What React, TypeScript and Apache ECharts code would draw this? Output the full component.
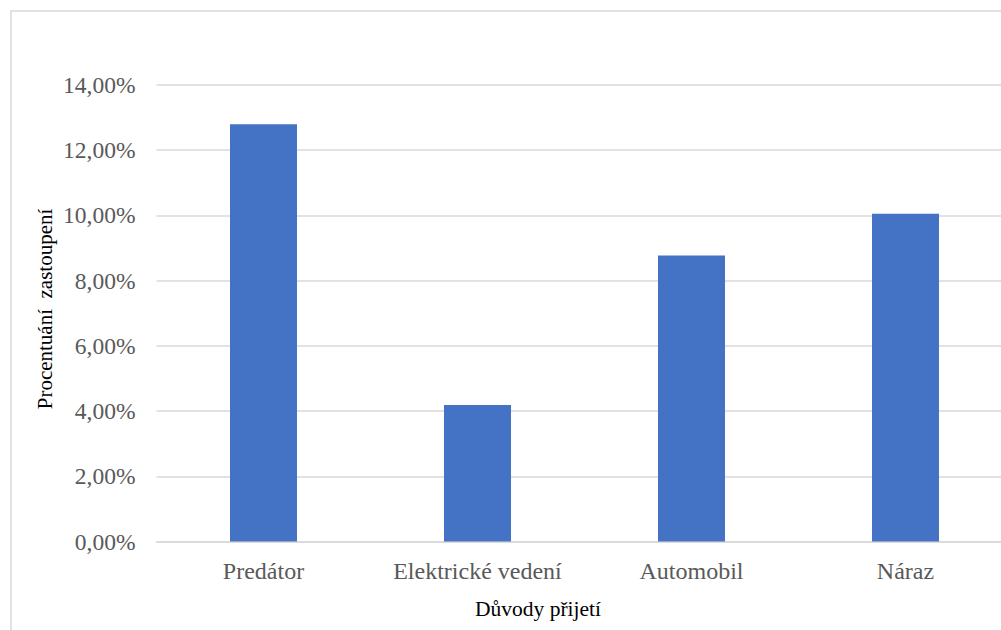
import React, { useEffect, useRef } from "react";
import * as echarts from "echarts";

const categories = ["Predátor", "Elektrické vedení", "Automobil", "Náraz"];
const values = [12.8, 4.19, 8.77, 10.05];
const yTicks = { min: 0, max: 14, interval: 2 };
const xTitle = "Důvody přijetí";
const yTitle = "Procentuání  zastoupení";

export default function App() {
  const ref = useRef<HTMLDivElement>(null);
  useEffect(() => {
    if (!ref.current) return;
    const chart = echarts.init(ref.current, undefined, { renderer: "svg" });
    const font = "Liberation Serif";
    chart.setOption({
      animation: false,
      backgroundColor: "#ffffff",
      grid: { left: 156.5, top: 85, right: 27.5, bottom: 98.5, containLabel: false },
      xAxis: {
        type: "category",
        data: categories,
        axisLine: { lineStyle: { color: "#d9d9d9", width: 1.5 } },
        axisTick: { show: false },
        axisLabel: { color: "#595959", fontFamily: font, fontSize: 24, margin: 17, interval: 0 },
      },
      yAxis: {
        type: "value",
        min: yTicks.min,
        max: yTicks.max,
        interval: yTicks.interval,
        axisLine: { show: false },
        axisTick: { show: false },
        splitLine: { lineStyle: { color: "#d9d9d9", width: 1.5 } },
        axisLabel: {
          color: "#595959",
          fontFamily: font,
          fontSize: 23.5,
          margin: 21,
          formatter: (v: number) => v.toFixed(2).replace(".", ",") + "%",
        },
      },
      series: [
        {
          type: "bar",
          data: values,
          barWidth: 67,
          itemStyle: { color: "#4472c4" },
        },
      ],
      graphic: [
        {
          type: "rect",
          z: -1,
          shape: { x: 11, y: 11, width: 1200, height: 800 },
          style: { fill: "none", stroke: "#d9d9d9", lineWidth: 1.5 },
        },
        {
          type: "text",
          x: 538,
          y: 609,
          style: {
            text: xTitle,
            fill: "#000000",
            fontFamily: font,
            fontSize: 21.5,
            align: "center",
            verticalAlign: "middle",
          },
        },
        {
          type: "text",
          x: 45,
          y: 309,
          rotation: Math.PI / 2,
          style: {
            text: yTitle,
            fill: "#000000",
            fontFamily: font,
            fontSize: 21,
            align: "center",
            verticalAlign: "middle",
          },
        },
      ],
    });
    return () => chart.dispose();
  }, []);
  return (
    <div style={{ position: "fixed", left: 0, top: 0, width: 1001, height: 630, overflow: "hidden", background: "#fff" }}>
      <div ref={ref} style={{ width: 1040, height: 640 }} />
    </div>
  );
}
